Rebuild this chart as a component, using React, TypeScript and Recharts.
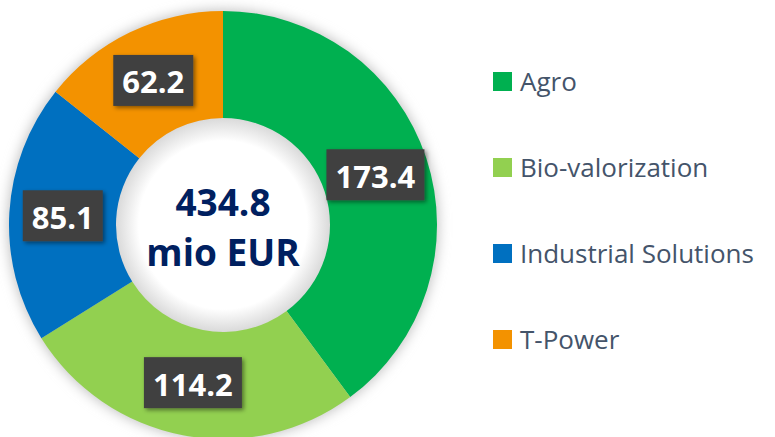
import { Legend, Pie, PieChart } from 'recharts';

const segments = ['Agro', 'Bio-valorization', 'Industrial Solutions', 'T-Power'];
const revenue = [173.4, 114.2, 85.1, 62.2];
const colors = ['#00B050', '#92D050', '#0070C0', '#F39200'];
const totalLabel = ['434.8', 'mio EUR'];

const data = segments.map((name, i) => ({ name, value: revenue[i], fill: colors[i] }));

const CX = 223;
const CY = 225;
const INNER = 107;
const OUTER = 214;
const RADIAN = Math.PI / 180;

const renderLabel = (props: any) => {
  const { cx, cy, midAngle, innerRadius, outerRadius, value } = props;
  const r = (innerRadius + outerRadius) / 2;
  const x = cx + r * Math.cos(-midAngle * RADIAN);
  const y = cy + r * Math.sin(-midAngle * RADIAN);
  const text = Number(value).toFixed(1);
  const w = text.length * 18 + 8;
  const h = 51;
  return (
    <g>
      <rect x={x - w / 2} y={y - h / 2} width={w} height={h} fill='#404040' filter='url(#boxShadow)' />
      <text
        x={x}
        y={y + 1}
        textAnchor='middle'
        dominantBaseline='central'
        fill='#fff'
        fontFamily='"Open Sans", sans-serif'
        fontWeight={700}
        fontSize={31}
      >
        {text}
      </text>
    </g>
  );
};

const renderLegend = () => (
  <div style={{ fontFamily: '"Open Sans", sans-serif', fontSize: 26, color: '#44546A' }}>
    {data.map((d) => (
      <div key={d.name} style={{ display: 'flex', alignItems: 'center', height: 86 }}>
        <span style={{ display: 'inline-block', width: 19, height: 19, background: d.fill, marginRight: 8 }} />
        <span>{d.name}</span>
      </div>
    ))}
  </div>
);

export default function App() {
  return (
    <div style={{ position: 'absolute', left: 0, top: 0, background: '#fff' }}>
      <PieChart width={775} height={437} margin={{ top: 0, right: 0, bottom: 0, left: 0 }}>
        <defs>
          <filter id='ringShadow' x='-20%' y='-20%' width='140%' height='140%'>
            <feGaussianBlur stdDeviation='6' />
          </filter>
          <filter id='boxShadow' x='-20%' y='-20%' width='150%' height='150%'>
            <feDropShadow dx='2' dy='2' stdDeviation='2' floodColor='#000' floodOpacity='0.45' />
          </filter>
          <radialGradient id='hole' cx='50%' cy='50%' r='50%'>
            <stop offset='0%' stopColor='#ffffff' />
            <stop offset='78%' stopColor='#ffffff' />
            <stop offset='100%' stopColor='#d8d8d8' />
          </radialGradient>
        </defs>
        <circle cx={CX} cy={CY} r={OUTER + 2} fill='#c8c8c8' filter='url(#ringShadow)' />
        <circle cx={CX} cy={CY} r={INNER + 1} fill='url(#hole)' />
        <Pie
          data={data}
          dataKey='value'
          nameKey='name'
          cx={CX}
          cy={CY}
          innerRadius={INNER}
          outerRadius={OUTER}
          startAngle={90}
          endAngle={-270}
          stroke='none'
          label={renderLabel}
          labelLine={false}
          isAnimationActive={false}
        />
        <text
          x={CX}
          y={CY - 24}
          textAnchor='middle'
          dominantBaseline='central'
          fill='#002060'
          fontFamily='"Open Sans", sans-serif'
          fontWeight={700}
          fontSize={37}
        >
          {totalLabel[0]}
        </text>
        <text
          x={CX}
          y={CY + 26}
          textAnchor='middle'
          dominantBaseline='central'
          fill='#002060'
          fontFamily='"Open Sans", sans-serif'
          fontWeight={700}
          fontSize={37}
        >
          {totalLabel[1]}
        </text>
        <Legend
          content={renderLegend}
          layout='vertical'
          wrapperStyle={{ left: 493, top: 38, width: 282 }}
        />
      </PieChart>
    </div>
  );
}
